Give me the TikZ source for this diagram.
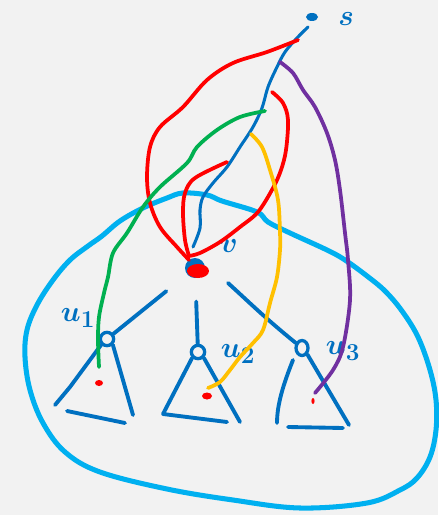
\documentclass[tikz,border=0pt]{standalone}
\usepackage{tikz}
\usetikzlibrary{positioning, calc, shapes.geometric}
\definecolor{paper}{RGB}{242, 242, 242}
\definecolor{treeblue}{RGB}{0, 112, 192}
\definecolor{hullblue}{RGB}{0, 176, 240}
\definecolor{walkred}{RGB}{255, 0, 0}
\definecolor{walkgreen}{RGB}{0, 176, 80}
\definecolor{walkyellow}{RGB}{255, 192, 0}
\definecolor{walkpurple}{RGB}{112, 48, 160}
\tikzset{
  pen/.style={line width=#1, line cap=round, line join=round},
  edge/.style={pen=3.3pt, draw=treeblue},
  hull/.style={pen=4.3pt, draw=hullblue},
  walk/.style={pen=3.2pt, draw=#1, smooth, tension=0.55},
  kid/.style={circle, draw=treeblue, line width=2.8pt, inner sep=0pt,
              minimum size=0.4cm},
  lbl/.style={text=treeblue, inner sep=0pt,
              font=\fontsize{30}{32}\selectfont\boldmath},
  reddot/.style={fill=walkred, draw=none},
}
\begin{document}
\begin{tikzpicture}[x=0.03cm, y=-0.03cm]
  \useasboundingbox[fill=paper] (0, 0) rectangle (438, 515);
  % the big blue region round the subtree of v
  \draw[hull] plot[smooth cycle, tension=0.6] coordinates {
    (183,193) (207,195) (222,201) (257,212) (268,222) (290,233) (327,250)
    (345,260) (367,276) (385,291) (402,311) (418,337) (430,370) (436,400)
    (436,430) (430,457) (417,478) (400,490) (367,503) (300,508) (233,500)
    (167,489) (100,472) (65,452) (43,423) (30,390) (25,357) (27,330)
    (37,305) (53,280) (70,260) (88,246) (102,236) (120,221) (143,208) (167,198)};
  % nodes
  \node[fill=treeblue, ellipse, inner sep=0pt, minimum width=0.36cm,
        minimum height=0.24cm] (s) at (312, 17) {};
  \node[lbl] (slab) at (346, 19) {$s$};
  \node[circle, fill=treeblue, inner sep=0pt, minimum size=0.6cm] (v) at (195, 268) {};
  \node[lbl] (vlab) at (229, 246) {$v$};
  \node[kid] (u1) at (107, 339) {};
  \node[kid] (u2) at (198, 352) {};
  \node[kid, ellipse, minimum height=0.45cm, minimum width=0.36cm] (u3) at (302, 348) {};
  \node[lbl] (u1lab) at (78, 318) {$u_1$};
  \node[lbl] (u2lab) at (238, 354) {$u_2$};
  \node[lbl] (u3lab) at (343, 351) {$u_3$};
  % path from s down to v
  \draw[walk=treeblue, pen=2.6pt] plot coordinates {
    (308,27) (297,38) (285,52) (277,67) (268,87) (262,108) (253,127)
    (240,147) (227,167) (213,183) (203,197) (200,210) (200,228) (193,247)};
  % tree edges
  \draw[edge, shorten <=0.8cm] (v) -- (u1);
  \draw[edge, shorten <=0.7cm] (v) -- (u2);
  \draw[edge] (228,283) .. controls (250,303) and (265,318) .. (u3);
  % subtrees
  \draw[edge] (u1.south west) -- (70,387) -- (55,405);
  \draw[edge] (67,411) -- (125,423);
  \draw[edge] (u1.south east) -- (133,415);
  \draw[edge] (u2.south west) -- (163,414) -- (227,422);
  \draw[edge] (u2.south east) -- (240,422);
  \draw[edge] (293,360) .. controls (283,385) and (277,405) .. (277,423);
  \draw[edge] (288,427) -- (343,428);
  \draw[edge] (u3.south east) -- (349,425);
  % red marks
  \fill[reddot] (v) ++(3,3) ellipse (11 and 7);
  \fill[reddot] (99,383) ellipse (4 and 3);
  \fill[reddot] (207,396) ellipse (5 and 3.5);
  \fill[reddot] (313,401) ellipse (1.6 and 3);
  % walks
  \draw[walk=walkred] plot coordinates {
    (298,40) (267,52) (233,63) (207,80) (183,107) (160,127) (150,147)
    (147,177) (150,203) (160,227) (177,247) (189,260)};
  \draw[walk=walkred] plot coordinates {
    (272,92) (283,103) (288,120) (286,150) (281,170) (273,188) (258,212)
    (240,227) (220,242) (200,253) (189,256)};
  \draw[walk=walkred] plot coordinates {
    (189,256) (185,240) (183,213) (185,193) (195,178) (227,162)};
  \draw[walk=walkgreen] plot coordinates {
    (265,111) (240,117) (217,130) (197,147) (187,163) (160,187) (143,207)
    (127,233) (113,253) (108,277) (104,293) (99,317) (98,340) (99,367)};
  \draw[walk=walkyellow] plot coordinates {
    (251,134) (262,147) (270,170) (278,200) (280,233) (280,250) (277,277)
    (270,303) (263,330) (253,343) (240,357) (230,370) (220,382) (208,388)};
  \draw[walk=walkpurple] plot coordinates {
    (280,62) (293,73) (303,90) (315,107) (327,133) (335,160) (340,190)
    (345,233) (348,260) (350,300) (343,347) (333,370) (315,393)};
\end{tikzpicture}
\end{document}
